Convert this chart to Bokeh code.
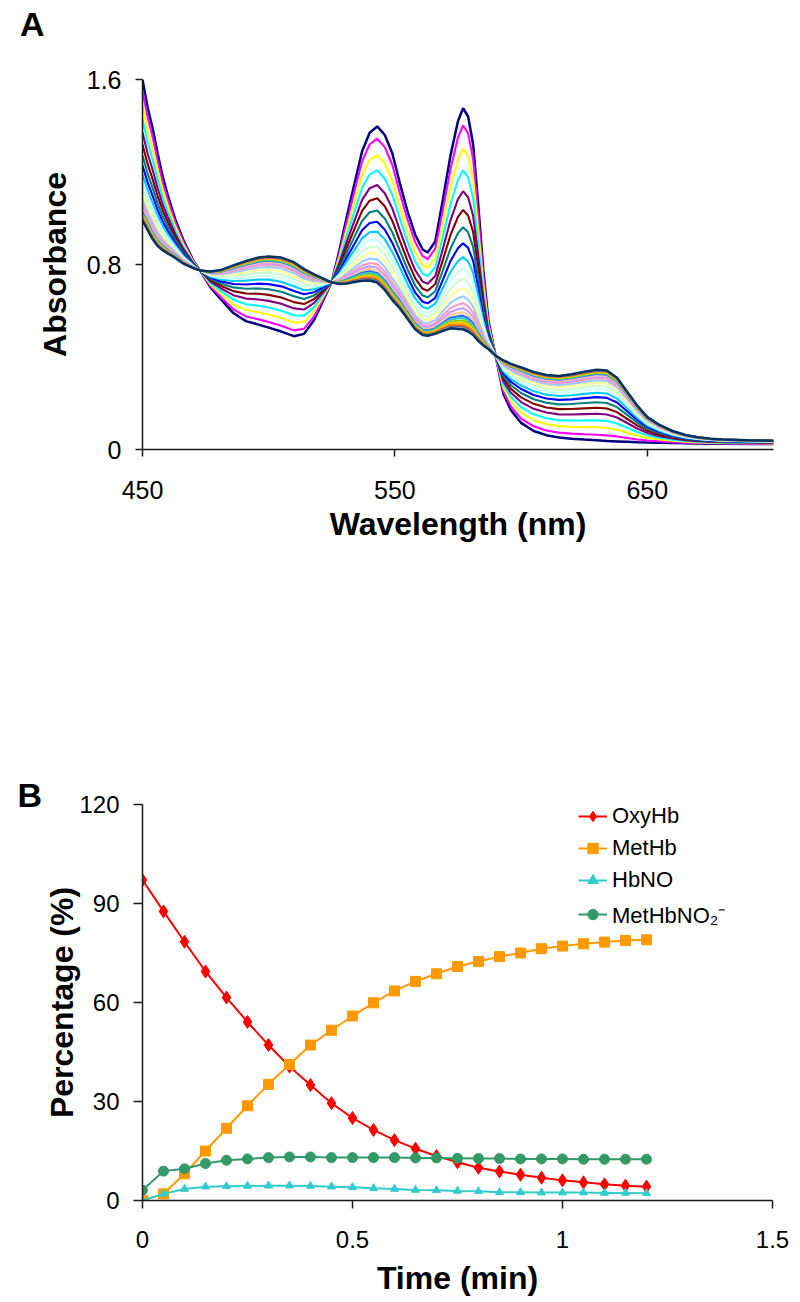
from bokeh.plotting import figure
from bokeh.models import Title, Legend, LegendItem, FixedTicker, CustomJSTickFormatter, Range1d, Div
from bokeh.layouts import column
from bokeh.embed import file_html
from bokeh.resources import INLINE

# ---------------- Panel A data: absorbance spectra ----------------
wavelength = [450, 452, 454, 456, 458, 460, 463, 466, 470, 473, 477, 481, 486, 491, 496,
              500, 505, 510, 514, 518, 521, 525, 528, 531, 534, 537, 540, 543, 546, 549,
              552, 555, 558, 561, 563, 566, 569, 572, 575, 577, 579, 581, 583, 585, 587,
              590, 593, 596, 600, 605, 610, 615, 620, 625, 630, 634, 638, 642, 646, 650,
              655, 660, 665, 670, 675, 680, 690, 700]
# first spectrum (t = 0, OxyHb-rich)
spectrum_first = [1.60, 1.48, 1.39, 1.28, 1.18, 1.10, 0.995, 0.91, 0.82, 0.77, 0.70, 0.65, 0.59, 0.555, 0.54,
                  0.527, 0.51, 0.49, 0.50, 0.56, 0.63, 0.726, 0.86, 1.01, 1.15, 1.29, 1.37, 1.397, 1.36, 1.28,
                  1.15, 1.03, 0.93, 0.865, 0.852, 0.90, 1.08, 1.27, 1.42, 1.476, 1.44, 1.32, 1.06, 0.78, 0.56,
                  0.40, 0.24, 0.17, 0.115, 0.08, 0.062, 0.052, 0.047, 0.043, 0.040, 0.037, 0.035, 0.033, 0.031, 0.030,
                  0.029, 0.028, 0.027, 0.026, 0.025, 0.025, 0.024, 0.024]
# last spectrum (t = 1.2 min, MetHb-rich)
spectrum_last = [0.99, 0.95, 0.91, 0.88, 0.862, 0.848, 0.828, 0.805, 0.785, 0.774, 0.77, 0.776, 0.796, 0.815, 0.83,
                 0.835, 0.83, 0.81, 0.78, 0.757, 0.742, 0.722, 0.716, 0.718, 0.724, 0.73, 0.731, 0.722, 0.69, 0.646,
                 0.61, 0.565, 0.52, 0.495, 0.492, 0.50, 0.513, 0.524, 0.521, 0.52, 0.51, 0.495, 0.47, 0.45, 0.435,
                 0.405, 0.385, 0.37, 0.355, 0.335, 0.322, 0.318, 0.325, 0.336, 0.345, 0.342, 0.31, 0.25, 0.19, 0.14,
                 0.105, 0.08, 0.063, 0.053, 0.047, 0.043, 0.040, 0.038]
peak577 = [1.476, 1.401, 1.300, 1.206, 1.117, 1.036, 0.961, 0.892, 0.832, 0.781, 0.738, 0.698, 0.662,
           0.633, 0.611, 0.594, 0.579, 0.569, 0.558, 0.548, 0.541, 0.535, 0.529, 0.525, 0.520]
spectrum_colors = ["#000080", "#FF00FF", "#FFFF00", "#00FFFF", "#800080", "#800000", "#008080", "#0000FF",
                   "#00CCFF", "#CCFFFF", "#CCFFCC", "#FFFF99", "#99CCFF", "#FF99CC", "#CC99FF", "#FFCC99",
                   "#3366FF", "#33CCCC", "#99CC00", "#FFCC00", "#FF9900", "#FF6600", "#666699", "#969696",
                   "#003366"]

# ---------------- Panel B data: species percentages ----------------
time_min = [0, 0.05, 0.1, 0.15, 0.2, 0.25, 0.3, 0.35, 0.4, 0.45, 0.5, 0.55, 0.6, 0.65, 0.7, 0.75,
            0.8, 0.85, 0.9, 0.95, 1.0, 1.05, 1.1, 1.15, 1.2]
oxyhb = [97.1, 87.6, 78.4, 69.4, 61.5, 54.1, 47.1, 40.6, 35.0, 29.5, 25.0, 21.4, 18.3, 15.7, 13.5, 11.6,
         9.9, 8.8, 7.8, 6.9, 6.1, 5.5, 4.9, 4.5, 4.2]
methb = [0.0, 2.0, 8.1, 15.0, 21.9, 28.7, 35.2, 41.2, 47.1, 51.6, 55.9, 59.9, 63.5, 66.4, 68.7, 70.9,
         72.4, 73.9, 75.0, 76.3, 77.1, 77.8, 78.3, 78.8, 79.0]
hbno = [0.0, 2.0, 3.5, 4.2, 4.3, 4.4, 4.5, 4.5, 4.4, 4.2, 4.0, 3.7, 3.5, 3.2, 3.1, 2.9,
        2.8, 2.5, 2.5, 2.4, 2.4, 2.4, 2.3, 2.3, 2.2]
methbno2 = [3.1, 8.9, 9.6, 11.2, 12.2, 12.6, 13.0, 13.2, 13.2, 13.0, 13.0, 13.0, 13.0, 12.9, 12.9, 12.8,
            12.7, 12.7, 12.6, 12.6, 12.6, 12.5, 12.5, 12.5, 12.5]
series_names = ["OxyHb", "MetHb", "HbNO", "MetHbNO\u2082\u207b"]
series_colors = ["#FF0000", "#FF9900", "#33CCCC", "#339966"]

FONT = "Liberation Sans"


def style_axis(ax, tick_out, label_standoff, title_standoff, tick_size="24px"):
    ax.axis_line_color = "#1a1a1a"
    ax.axis_line_width = 1.5
    ax.major_tick_line_color = "#1a1a1a"
    ax.major_tick_line_width = 1.5
    ax.major_tick_out = tick_out
    ax.major_tick_in = 0
    ax.minor_tick_out = 0
    ax.minor_tick_in = 0
    ax.major_label_text_font = FONT
    ax.major_label_text_font_size = tick_size
    ax.major_label_text_color = "black"
    ax.major_label_standoff = label_standoff
    ax.axis_label_text_font = FONT
    ax.axis_label_text_font_size = "32px"
    ax.axis_label_text_font_style = "bold"
    ax.axis_label_text_color = "black"
    ax.axis_label_standoff = title_standoff
    ax.formatter = CustomJSTickFormatter(code="return tick.toString();")


# ---------------- Panel label A (HTML strip above figure A) ----------------
divA = Div(text="<div style='position:relative; left:20px; top:0px; line-height:34px;'>A</div>",
           width=792, height=40, margin=(0, 0, 0, 0),
           styles={"font-family": FONT, "font-size": "34px", "font-weight": "bold", "color": "black"})

# ---------------- Figure A ----------------
pA = figure(frame_width=631, frame_height=370, output_backend="svg", toolbar_location=None,
            x_range=Range1d(450, 700), y_range=Range1d(0, 1.6),
            min_border_left=139, min_border_right=22, min_border_top=39, min_border_bottom=199)
pA.outline_line_color = None
pA.xgrid.visible = False
pA.ygrid.visible = False

A0 = peak577[0]
A1 = peak577[-1]
for pk, col in zip(peak577, spectrum_colors):
    f = (A0 - pk) / (A0 - A1)
    ys = [a + f * (b - a) for a, b in zip(spectrum_first, spectrum_last)]
    lw = 2.5 if col in ("#000080", "#003366") else 2.1
    pA.line(wavelength, ys, line_color=col, line_width=lw)

pA.xaxis.ticker = FixedTicker(ticks=[450, 550, 650])
pA.yaxis.ticker = FixedTicker(ticks=[0, 0.8, 1.6])
pA.xaxis.axis_label = "Wavelength (nm)"
pA.yaxis.axis_label = "Absorbance"
style_axis(pA.xaxis[0], 7, 24, 4, "25px")
style_axis(pA.yaxis[0], 7, 14, 11, "25px")

# ---------------- Figure B ----------------
pB = figure(frame_width=630, frame_height=396, output_backend="svg", toolbar_location=None,
            x_range=Range1d(0, 1.5), y_range=Range1d(0, 120),
            min_border_left=142, min_border_right=20, min_border_top=156, min_border_bottom=100)
pB.outline_line_color = None
pB.xgrid.visible = False
pB.ygrid.visible = False

series_values = [oxyhb, methb, hbno, methbno2]
markers = ["diamond", "square", "triangle", "circle"]
sizes = [13, 10, 8, 10]
items = []
for name, vals, col, mk, sz in zip(series_names, series_values, series_colors, markers, sizes):
    ln = pB.line(time_min, vals, line_color=col, line_width=2)
    sc = pB.scatter(time_min, vals, marker=mk, size=sz, fill_color=col, line_color=col)
    items.append(LegendItem(label=name, renderers=[ln, sc]))

legend = Legend(items=items, location=(436, 271), padding=0, margin=0, spacing=6,
                glyph_width=29, glyph_height=26, label_height=26, label_standoff=5,
                label_text_font=FONT, label_text_font_size="22px", label_text_color="black",
                border_line_color=None, background_fill_alpha=0)
pB.add_layout(legend, "center")

pB.xaxis.ticker = FixedTicker(ticks=[0, 0.5, 1, 1.5])
pB.yaxis.ticker = FixedTicker(ticks=[0, 30, 60, 90, 120])
pB.xaxis.axis_label = "Time (min)"
pB.yaxis.axis_label = "Percentage (%)"
style_axis(pB.xaxis[0], 8, 22, 9)
style_axis(pB.yaxis[0], 9, 14, -4)

pB.add_layout(Title(text="B", align="left", offset=-125, standoff=-18, vertical_align="bottom",
                    text_font=FONT, text_font_size="34px", text_font_style="bold",
                    text_color="black"), "above")

layout = column(divA, pA, pB, spacing=0)
open("out.html", "w").write(file_html(layout, INLINE))
